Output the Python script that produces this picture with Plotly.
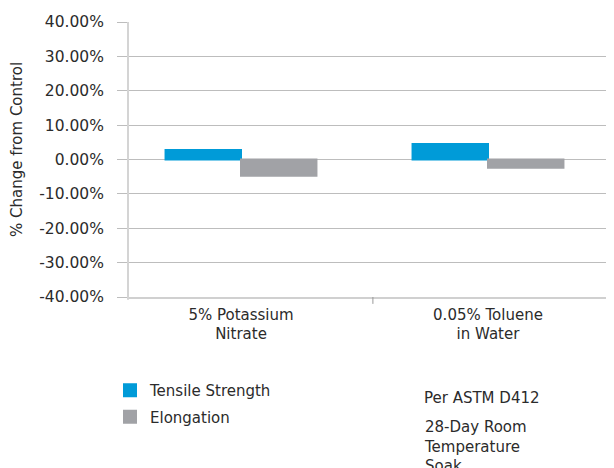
import plotly.graph_objects as go

categories = ["5% Potassium<br>Nitrate", "0.05% Toluene<br>in Water"]
tensile_strength = [2.8, 4.5]
elongation = [-4.7, -2.4]
y_ticks = [-40, -30, -20, -10, 0, 10, 20, 30, 40]
y_tick_labels = ["-40.00%", "-30.00%", "-20.00%", "-10.00%", "0.00%",
                 "10.00%", "20.00%", "30.00%", "40.00%"]

FONT = "DejaVu Sans"
TEXT = "#2b2b2b"
FS = 15
BLUE = "#009bd8"
GRAY = "#a1a2a6"

# page is rendered with an 8px body offset; margins compensate
L, T, B = 120, 14, 179
PW = 614 - L
PH = 468 - T - B


def px(xpage):
    return (xpage - 8 - L) / PW


def py(ypage):
    return 1 - (ypage - 8 - T) / PH


fig = go.Figure()
fig.add_trace(go.Bar(x=[0, 1], y=tensile_strength, name="Tensile Strength",
                     marker=dict(color=BLUE, line=dict(width=2, color=BLUE)),
                     legendgroup="a"))
fig.add_trace(go.Bar(x=[0, 1], y=elongation, name="Elongation",
                     marker=dict(color=GRAY, line=dict(width=2, color=GRAY)),
                     legendgroup="b"))

fig.update_layout(
    width=614, height=468,
    margin=dict(l=L, r=0, t=T, b=B, autoexpand=False),
    paper_bgcolor="white", plot_bgcolor="white",
    barmode="group", bargap=0.389, bargroupgap=0,
    font=dict(family=FONT, size=FS, color=TEXT),
    legend=dict(x=px(110), y=py(374), xanchor="left", yanchor="top",
                orientation="v", font=dict(size=FS, color=TEXT),
                tracegroupgap=4, traceorder="grouped", bgcolor="rgba(0,0,0,0)"),
    xaxis=dict(range=[-0.4575, 1.5425], tickmode="array", tickvals=[0, 1],
               ticktext=categories, showgrid=False, zeroline=False,
               showline=True, linecolor="#d0d0d0", linewidth=1.5,
               ticks="", ticklabelstandoff=3, automargin=False,
               tickfont=dict(size=FS, color=TEXT)),
    yaxis=dict(range=[-40, 40], tickmode="array", tickvals=y_ticks,
               ticktext=y_tick_labels, showgrid=True, gridcolor="#bdbdbd",
               gridwidth=1, zeroline=False, showline=False,
               ticks="outside", ticklen=10, tickcolor="#bdbdbd",
               ticklabelstandoff=10, automargin=False,
               tickfont=dict(size=15.5, color=TEXT)),
    shapes=[
        dict(type="line", xref="paper", yref="paper", x0=0, x1=0,
             y0=-0.01, y1=1, line=dict(color="#d4d4d4", width=2)),
        dict(type="line", xref="x", yref="paper", x0=0.534, x1=0.534,
             y0=0, y1=-0.025, line=dict(color="#999999", width=1)),
    ],
    annotations=[
        dict(text="% Change from Control", xref="paper", yref="paper",
             x=px(17), y=py(150), xanchor="center", yanchor="middle",
             textangle=-90, showarrow=False, font=dict(size=FS, color=TEXT)),
        dict(text="Per ASTM D412", xref="paper", yref="paper",
             x=px(422), y=py(387), xanchor="left",
             yanchor="top", showarrow=False, align="left",
             font=dict(size=FS, color=TEXT)),
        dict(text="28-Day Room<br>Temperature<br>Soak", xref="paper", yref="paper",
             x=px(422), y=py(416), xanchor="left",
             yanchor="top", showarrow=False, align="left",
             font=dict(size=FS, color=TEXT)),
    ],
)

fig.write_html("out.html")
